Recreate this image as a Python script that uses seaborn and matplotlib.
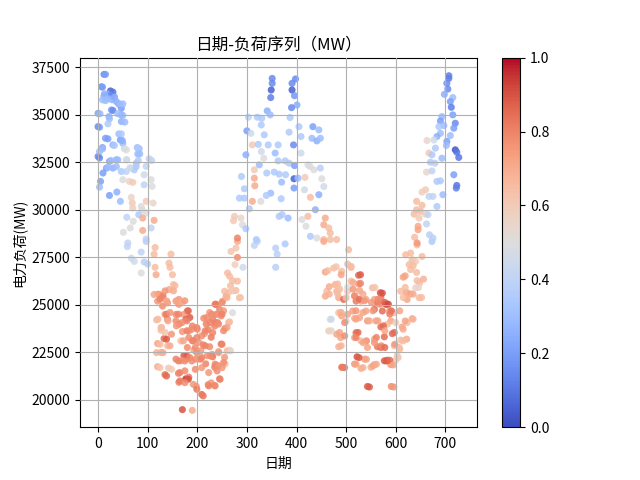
import matplotlib
matplotlib.use("Agg")
import matplotlib.pyplot as plt
import seaborn as sns
import pandas as pd
from matplotlib.cm import ScalarMappable
from matplotlib.colors import Normalize

plt.rcParams['font.family'] = ['Noto Sans CJK SC', 'DejaVu Sans']
plt.rcParams['axes.unicode_minus'] = False

# (day, load MW, colour level)
pts_year1_high = [
(12,37130,.15),(7,36480,.15),(25,36260,.05),(12,36000,.25),(18,35900,.25),(22,36100,.25),(28,35800,.25),(33,35950,.25),(37,35700,.25),(15,35750,.3),(42,35560,.2),(47,35350,.2),(0,35080,.2),(27,35260,.2),(22,34910,.25),(47,35000,.2),(47,34650,.25),(0,34380,.15),(42,34000,.3),(15,33770,.2),(45,33680,.2),(30,33420,.25),(50,33500,.3),(9,33280,.2),(53,33220,.45),(79,33280,.3),(83,33220,.3),(0,32810,.15),(80,32940,.3),(3,33070,.3),(23,32550,.2),(37,32640,.25),(17,32200,.2),(30,32200,.25),(10,31940,.2),(57,32640,.5),(77,32460,.35),(67,32200,.5),(47,32020,.35),(57,32020,.4),(73,32110,.35),(97,32290,.4),(103,32690,.4),(93,31850,.45),(50,31590,.5),(63,31500,.55),(70,31450,.6),(107,31590,.5),(109,31240,.5),(93,31320,.4),(5,31500,.2),(3,31200,.3),(23,30760,.2),(38,30940,.25),(45,30450,.3),(67,30660,.55),(69,30360,.6),(70,30100,.58),(87,30180,.5),(97,30450,.6),(111,30360,.55),(89,30010,.5),(97,29830,.5),(82,29750,.35),(58,29610,.4),(113,29450,.7),(90,29570,.7),(90,28920,.7),(107,29050,.4),(71,29400,.5),(65,29050,.5),(51,28820,.5),(97,28470,.4),(60,28260,.4),
]
pts_year1_top_extra = [
(15,37130,.2),(9,36460,.2),(30,36200,.1),(26,36020,.15),(13,36110,.25),(20,35850,.3),(9,35790,.3),(33,35930,.25),(43,35580,.3),(50,35580,.3),(30,35230,.15),(40,35060,.3),(50,34970,.3),(4,35060,.3),(23,34790,.3),(54,34620,.3),(20,34530,.35),(3,34350,.2),(47,34000,.35),(20,33740,.2),(49,33650,.25),(33,33390,.35),(57,33160,.5),(9,33210,.3),(80,33260,.35),(84,32950,.3),(3,32735,.15),(58,32630,.45),(26,32600,.3),(40,32630,.3),(81,32600,.35),(108,32600,.4),(20,32240,.3),(37,32280,.3),(77,32280,.35),(64,32210,.45),
]
pts_year1_low = [
(59,28070,.4),(87,27780,.4),(97,28340,.38),(115,28020,.65),(113,27670,.65),(147,27670,.65),(67,27460,.45),(73,27290,.45),(93,27260,.38),(100,27150,.38),(87,26680,.5),(115,26980,.65),(143,27200,.65),(145,26980,.65),(117,26590,.7),(150,26590,.65),(152,26070,.65),(143,25810,.7),(123,25550,.8),(113,25550,.72),(130,25410,.78),(120,25200,.75),(157,25200,.75),(163,25290,.75),(163,25030,.75),(140,25110,.75),(130,24940,.78),(180,24680,.85),(173,24500,.75),(135,24500,.75),(157,24500,.78),(140,24240,.8),(118,24210,.65),(177,24240,.85),(157,24160,.78),(163,23980,.8),(127,23810,.65),(190,23890,.8),(183,23630,.75),(127,23670,.65),(170,23600,.75),(200,23720,.78),(133,23230,.85),(183,23280,.78),(190,23110,.78),(203,23030,.75),(167,23110,.65),(120,22970,.72),(140,22850,.65),(180,22760,.78),(193,22620,.72),(127,22500,.7),(207,22590,.75),(173,22330,.88),(157,22150,.8),(178,22150,.8),(167,22060,.75),(197,22150,.78),(220,22330,.75),(120,21750,.7),(142,21680,.6),(135,21330,.85),(162,21400,.8),(177,21110,.95),(183,21200,.82),(163,20930,.8),(198,20720,.75),(209,20290,.85),(222,20810,.78),(170,19490,.9),(190,19450,.7),
(213,24300,.78),(218,24000,.8),(222,23700,.8),(225,24600,.75),(228,23300,.82),(215,23500,.75),(212,22900,.8),(225,22800,.78),(230,22400,.75),(217,21900,.8),(228,20900,.75),
(281,28340,.7),(315,28130,.4),(321,28340,.4),(358,27990,.38),(361,27670,.38),(358,26980,.38),(278,27990,.62),(268,27810,.62),(281,27500,.78),(276,27120,.58),(292,26980,.45),(261,26680,.65),(265,26510,.65),(271,26280,.65),(281,26250,.65),(278,25760,.65),(255,25720,.65),(258,25460,.7),(285,25380,.65),(251,25200,.72),(238,25030,.82),(245,24770,.8),(271,24590,.5),(238,24500,.8),(248,24420,.78),(231,24240,.8),(241,24070,.82),(235,23890,.8),(265,24110,.65),(256,23770,.78),(231,23540,.8),(248,22940,.82),(265,22620,.55),(243,22550,.7),(231,22270,.82),(255,22240,.75),(256,21890,.65),(241,21800,.78),(235,21720,.8),(245,21110,.82),(235,20760,.8),
]
pts_year1_low_extra = [
(121,25570,.72),(131,25480,.8),(135,25740,.75),(125,25300,.8),(138,25220,.72),(155,26010,.65),(152,25740,.7),(162,25220,.72),(169,25130,.7),(175,25220,.75),(138,24510,.82),(145,24600,.75),(162,24510,.8),(182,24690,.85),(185,24340,.88),(179,24160,.8),(169,24070,.78),(158,23900,.75),(141,24160,.7),(121,24250,.65),(128,23810,.65),(135,23550,.62),(148,23460,.75),(179,23640,.8),(189,23720,.78),(199,23810,.8),(219,24340,.78),(229,24510,.78),(226,24070,.8),(236,24070,.8),(243,23990,.78),(236,25040,.82),(250,25130,.78),(253,24690,.75),(250,24510,.8),(267,26010,.65),(263,25660,.65),(260,25390,.68),(273,25740,.62),(287,25390,.62),(263,24070,.65),(260,23810,.72),(253,23640,.78),(216,23640,.8),(209,23370,.78),(199,23280,.8),(192,23110,.8),(172,23110,.72),(138,23200,.88),(125,22930,.65),(145,22850,.7),(118,22490,.68),(131,22490,.7),(196,22760,.78),(216,22850,.8),(250,22930,.8),(179,22320,.88),(185,22230,.8),(199,22490,.78),(209,22230,.8),(226,22320,.78),(243,22490,.75),(260,22580,.65),(267,22580,.55),(162,22050,.8),(175,22050,.78),(189,22050,.78),(206,22140,.8),(236,21880,.8),(253,21970,.78),(243,21790,.75),(125,21700,.62),(148,21610,.6),(138,21260,.85),(165,21440,.8),(175,21530,.78),(196,21610,.78),(209,21700,.75),(223,21440,.75),(240,21530,.78),(250,21700,.75),(165,21000,.82),(182,21090,.9),(175,20910,.78),(192,20820,.75),(199,20560,.82),(223,20740,.8),(236,20740,.78),(246,21090,.8),(212,20210,.82),
]
pts_year2_high = [
(351,36920,.15),(351,36660,.15),(349,36310,.05),(348,35910,.12),(398,36890,.15),(391,36660,.15),(391,36310,.05),(396,36010,.18),(401,35520,.25),(390,35380,.15),(341,35210,.25),(347,35000,.3),(303,34880,.4),(321,34880,.35),(330,34820,.35),(387,34860,.35),(329,34470,.35),(405,34380,.35),(433,34380,.2),(445,34210,.3),(300,34160,.2),(308,34030,.45),(335,33950,.35),(385,34090,.35),(394,33420,.15),(409,33860,.35),(431,33770,.3),(441,33630,.25),(448,33770,.3),(311,33420,.6),(323,33450,.35),(343,33420,.35),(363,33420,.35),(329,33070,.45),(357,32990,.3),(298,32900,.25),(334,32720,.5),(363,32580,.35),(377,32580,.35),(385,32460,.35),(409,32990,.45),(423,32370,.5),(427,32290,.5),(435,32110,.5),(448,32200,.38),(325,32370,.3),(315,32110,.6),(396,32330,.2),(340,31940,.35),(355,31990,.35),(365,31880,.35),(378,31850,.35),(395,31640,.05),(403,31670,.3),(417,31710,.6),(451,31640,.5),(315,31670,.7),(289,31760,.35),(370,31460,.3),(395,31150,.2),(455,31230,.45),(416,31060,.45),(316,31270,.7),(295,31110,.35),(348,30880,.3),(339,30760,.35),(369,30590,.35),(428,30660,.65),(445,30800,.25),(285,30620,.35),(295,30620,.35),(311,30450,.7),(328,30450,.5),(438,30010,.25),(305,30060,.35),(275,29660,.6),(288,29570,.55),(365,29660,.35),(371,29750,.35),(383,29570,.3),(411,29490,.5),(423,29660,.65),(458,29570,.7),(455,29220,.7),(465,29050,.65),(468,28780,.65),(273,29430,.6),(291,29220,.5),(298,29010,.35),(281,28520,.8),(419,29140,.5),(428,28610,.35),(441,28520,.5),(319,28440,.35),(377,28210,.35),(455,28440,.65),(468,28440,.65),(481,28440,.65),
]
pts_year2_low = [
(455,28340,.7),(458,26730,.72),(475,26940,.65),(491,26770,.65),(461,25720,.65),(478,26070,.68),(481,25720,.68),(485,25380,.7),(458,25460,.7),(495,25290,.85),(485,24590,.65),(468,24240,.5),(491,24420,.72),(465,23630,.6),(481,23460,.72),(489,23280,.72),(485,22800,.68),(491,21720,.82),
(490,26590,.72),(505,27900,.65),(510,27030,.65),(525,26560,.85),(525,26110,.75),(510,26250,.65),(527,25760,.72),(503,25720,.6),(517,25460,.72),(500,25380,.65),(520,25200,.82),(530,25200,.72),(540,25290,.72),(553,25900,.65),(557,25290,.72),(569,25640,.9),(570,25380,.82),(580,25030,.92),(563,25110,.85),(557,24770,.85),(573,24680,.85),(587,24680,.72),(597,24590,.65),(540,24680,.72),(513,24680,.72),(527,24330,.72),(517,24300,.7),(500,24160,.6),(543,24160,.75),(560,24160,.72),(590,24160,.72),(570,23840,.85),(583,23980,.65),(600,24070,.6),(613,23840,.72),(623,24070,.65),(633,24280,.7),(520,23540,.85),(517,23280,.72),(530,23110,.65),(557,23200,.72),(577,23320,.85),(593,23490,.85),(543,22760,.72),(563,22800,.82),(570,22760,.85),(610,23150,.65),(607,22760,.65),(597,22850,.65),(522,22270,.9),(537,22150,.72),(577,22060,.88),(583,22090,.88),(590,21860,.75),(603,22330,.6),(600,22100,.6),(517,21890,.75),(530,21660,.7),(550,21720,.68),(557,21860,.72),(493,21720,.82),(543,20710,.88),(591,20710,.78),
(620,27640,.65),(630,27730,.65),(633,27380,.65),(627,27120,.65),(630,26860,.65),(640,27290,.6),(653,27550,.65),(615,26460,.72),(643,26280,.65),(648,26160,.65),(640,25900,.55),(610,25720,.65),(630,25580,.72),(623,25290,.72),(647,25380,.65),(643,28160,.65),(673,28340,.35),
]
pts_year2_low_extra = [
(463,26800,.65),(480,27010,.62),(503,27150,.65),(510,26970,.65),(529,26590,.88),(529,26130,.8),(514,26180,.7),(483,26100,.65),(466,25960,.7),(487,25830,.65),(503,25920,.5),(466,25570,.68),(483,25570,.65),(514,25830,.75),(517,25480,.78),(527,25300,.85),(537,25220,.75),(534,25570,.7),(558,25920,.62),(573,25620,.9),(564,25300,.78),(551,25130,.75),(554,24690,.75),(568,25040,.8),(578,25130,.88),(585,25040,.92),(591,24690,.85),(588,24520,.82),(608,24690,.72),(615,25390,.65),(622,25660,.72),(619,25920,.65),(635,25570,.7),(652,25390,.65),(646,25920,.55),(635,27060,.65),(642,26710,.65),(619,26530,.72),(656,26360,.68),(470,24250,.45),(490,24600,.7),(503,24510,.72),(520,24690,.75),(534,24600,.72),(497,24070,.78),(470,23640,.55),(487,23550,.72),(497,23370,.78),(490,22850,.68),(520,24250,.72),(547,24160,.7),(564,24160,.72),(575,23900,.85),(578,23640,.72),(597,23550,.85),(619,24160,.72),(635,24250,.68),(615,23720,.7),(622,23200,.7),(615,23110,.65),(524,23550,.85),(520,23290,.8),(541,23110,.78),(534,23020,.72),(561,23290,.8),(557,23020,.75),(571,22850,.78),(578,22760,.85),(598,22930,.75),(608,22670,.65),(526,22230,.88),(541,22140,.72),(581,22050,.88),(588,22090,.85),(595,21840,.72),(605,22230,.62),(554,21790,.72),(561,21880,.7),(520,21880,.72),(534,21700,.68),(497,21700,.82),(547,20680,.88),(596,20680,.75),
]
pts_year3_high = [
(707,37060,.12),(707,36920,.12),(703,36660,.15),(705,36360,.15),(698,36080,.25),(715,35910,.3),(710,35700,.2),(712,35400,.12),(693,34910,.3),(715,35000,.2),(690,34680,.2),(720,34560,.15),(697,34440,.3),(687,34380,.35),(717,34300,.2),(690,34030,.3),(710,33910,.3),(683,33860,.25),(663,33650,.55),(677,33680,.45),(703,33600,.2),(702,33390,.3),(680,33250,.35),(720,33160,.02),(723,33040,.1),(727,32760,.1),(667,32990,.6),(673,32900,.35),(670,32510,.35),(679,32460,.38),(693,32720,.3),(662,31990,.55),(673,32050,.4),(717,31850,.2),(723,31290,.1),(722,31150,.12),(690,31530,.35),(683,31500,.35),(660,31060,.6),(653,30940,.58),(667,30710,.4),(675,30710,.4),(695,30800,.3),(683,30180,.35),(642,30450,.65),(653,30240,.65),(642,30010,.65),(650,29920,.65),(660,29780,.58),(637,29780,.65),(665,29750,.4),(647,29570,.6),(662,29260,.4),(645,29140,.7),(645,28960,.72),(638,28560,.65),(668,28690,.38),(675,28520,.38),(643,28260,.75),
]

all_pts = (pts_year1_high + pts_year1_top_extra + pts_year1_low + pts_year1_low_extra
           + pts_year2_high + pts_year2_low + pts_year2_low_extra + pts_year3_high)
days = [p[0] for p in all_pts]
loads = [p[1] for p in all_pts]
levels = [p[2] for p in all_pts]
df = pd.DataFrame({"day": days, "load": loads, "level": levels})

fig, ax = plt.subplots(figsize=(6.4, 4.8), dpi=100)
sns.scatterplot(data=df, x="day", y="load", hue="level", palette="coolwarm",
                hue_norm=(0, 1), s=26, alpha=0.85, edgecolor="none",
                legend=False, ax=ax)
ax.grid(True)
ax.set_axisbelow(False)
ax.set_title("日期-负荷序列（MW）")
ax.set_xlabel("日期")
ax.set_ylabel("电力负荷(MW)")
sm = ScalarMappable(norm=Normalize(0, 1), cmap="coolwarm")
fig.colorbar(sm, ax=ax)
fig.savefig("out.png", dpi=100)
